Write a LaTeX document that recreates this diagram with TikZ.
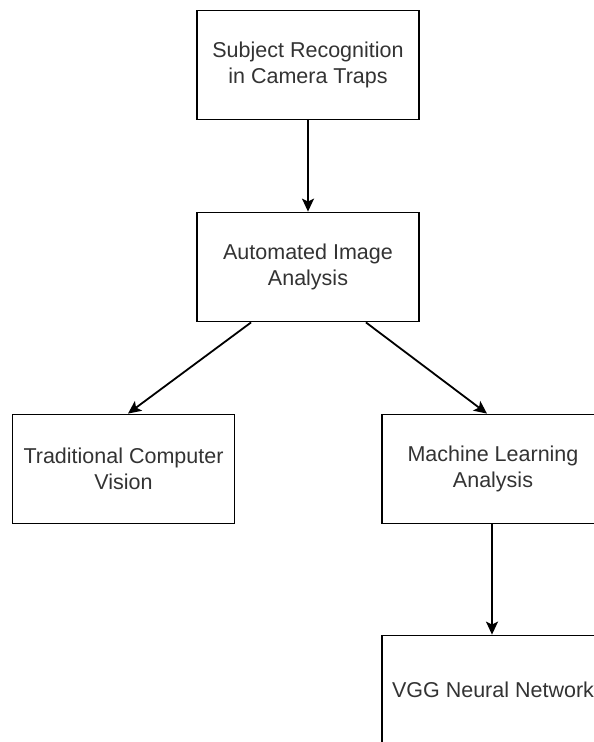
\documentclass[tikz,border=0pt]{standalone}
\usepackage{fontspec}
\setmainfont{Liberation Sans}
\usetikzlibrary{arrows.meta,calc}
\definecolor{txtgray}{HTML}{333333}
\tikzset{
  box/.style={draw=black, line width=1.8pt, fill=white, minimum width=222pt, minimum height=109pt,
    inner sep=0pt, align=center, text=txtgray, font=\fontsize{21.5}{25.5}\selectfont},
  conn/.style={draw=black, line width=1.8pt, -{Stealth[length=13pt,width=12pt,inset=3pt]}}
}
\begin{document}
\begin{tikzpicture}[x=1pt,y=-1pt]
\useasboundingbox (0,0) rectangle (594,742);
\clip (0,0) rectangle (594,742);
\node[box] (n1) at (308,65) {Subject Recognition\\in Camera Traps};
\node[box] (n2) at (308,267) {Automated Image\\Analysis};
\node[box] (n3) at (123.5,469) {Traditional Computer\\Vision};
\node[box] (n4) at (493,469) {Machine Learning\\Analysis};
\node[box] (n5) at (493,690) {VGG Neural Network};
\draw[conn] (n1.south) -- (n2.north);
\draw[conn] ($(n2.south west)+(55,0)$) -- ($(n3.north)+(4.5,0)$);
\draw[conn] ($(n2.south east)+(-54,0)$) -- ($(n4.north)+(-6,0)$);
\draw[conn] ($(n4.south)+(-1,0)$) -- ($(n5.north)+(-1,0)$);
\end{tikzpicture}
\end{document}
